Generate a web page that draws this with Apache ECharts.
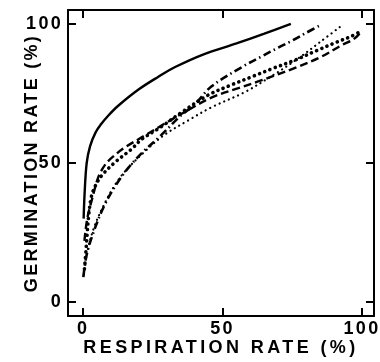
<!DOCTYPE html>
<html>
<head>
<meta charset="utf-8">
<script src="https://cdn.jsdelivr.net/npm/echarts@6/dist/echarts.min.js"></script>
<style>
  html, body { margin: 0; padding: 0; background: #fff; }
  #main { width: 380px; height: 362px; }
</style>
</head>
<body>
<div id="main"></div>
<script>
// tick labels
const xTicks = [0, 50, 100];
const yTicks = [0, 50, 100];
const xTitle = 'RESPIRATION RATE (%)';
const yTitle = 'GERMINATION RATE (%)';

// curves: [respiration %, germination %]
const solidLine = [[0.2, 30], [0.6, 40], [1.3, 50], [2.5, 56], [4.5, 61], [6.5, 64], [9, 67],
  [12.5, 70.5], [20, 76.5], [27, 81], [33, 84.5], [43, 89], [55, 93], [65, 96.5], [74.5, 100]];
const dashedLine = [[0.5, 22], [1.5, 30], [3.5, 38], [5.5, 45], [8, 49.5], [11, 52.5], [15, 55.6],
  [22, 59.8], [29, 64], [35, 67.5], [46, 73.5], [56, 77], [63, 79.4], [68, 81.2], [76, 84.2],
  [85, 88], [93, 92.5], [97, 94.5], [100, 97.5]];
const denseDots = [[0.5, 12], [1, 18], [1.5, 25], [2, 31], [3, 38], [4.5, 42], [6.7, 45.5],
  [11.4, 50.2], [17.4, 55], [21, 58.5], [28, 63], [35, 68], [45, 74.5], [53, 78], [61, 81.2],
  [68, 84], [76, 87], [84, 90.5], [91, 93.5], [96, 95.5], [99, 97]];
const dashDot = [[0.1, 9], [1.3, 17], [3.7, 25], [7.3, 34], [11.4, 41.5], [16, 48], [21.5, 54],
  [28, 60], [35, 67], [40, 71], [46, 77.5], [57.5, 84.8], [64, 88.3], [70, 91.5], [75, 94],
  [80, 96.8], [85.2, 99.6]];
const fineDots = [[0.3, 10], [1.5, 18], [4, 27], [8, 36], [12, 43], [15.5, 47.5], [22, 54],
  [29, 60], [38, 65.5], [46, 70], [58, 75.5], [68, 81.5], [77, 87.5], [85, 93.5], [93, 99.6]];

// the axis titles are set with wide letter spacing in the original
const titleSpacing = { [xTitle]: '3.4px', [yTitle]: '2.3px' };
const origFillText = CanvasRenderingContext2D.prototype.fillText;
CanvasRenderingContext2D.prototype.fillText = function (text, x, y, w) {
  if (titleSpacing[text]) {
    const prev = this.letterSpacing;
    this.letterSpacing = titleSpacing[text];
    origFillText.call(this, text, x, y, w);
    this.letterSpacing = prev;
    return;
  }
  return origFillText.apply(this, arguments);
};

const font = '"Liberation Sans", Arial, sans-serif';

function frameX(pos, showLabel) {
  return {
    type: 'value', position: pos, min: -5.4, max: 104.3,
    axisLine: { show: true, onZero: false, lineStyle: { color: '#000', width: 2 } },
    axisTick: { show: true, inside: true, length: 8, customValues: xTicks, lineStyle: { color: '#000', width: 2 } },
    axisLabel: { show: showLabel, customValues: xTicks, color: '#000', fontSize: 18, fontWeight: 'bold', fontFamily: font, margin: 4 },
    splitLine: { show: false }
  };
}
function frameY(pos, showLabel) {
  return {
    type: 'value', position: pos, min: -5, max: 105,
    axisLine: { show: true, onZero: false, lineStyle: { color: '#000', width: 2 } },
    axisTick: { show: true, inside: true, length: 8, customValues: yTicks, lineStyle: { color: '#000', width: 2 } },
    axisLabel: { show: showLabel, customValues: yTicks, color: '#000', fontSize: 18, fontWeight: 'bold', fontFamily: font, margin: 5 },
    splitLine: { show: false }
  };
}

const xBottom = Object.assign(frameX('bottom', true), {
  name: xTitle, nameLocation: 'middle', nameGap: 23, nameMoveOverlap: false,
  nameTextStyle: { color: '#000', fontSize: 18, fontWeight: 'bold', fontFamily: font }
});
const yLeft = Object.assign(frameY('left', true), {
  name: yTitle, nameLocation: 'middle', nameGap: 27, nameMoveOverlap: false,
  nameTextStyle: { color: '#000', fontSize: 18, fontWeight: 'bold', fontFamily: font }
});

function line(data, style) {
  return {
    type: 'line', data: data, xAxisIndex: 0, yAxisIndex: 0,
    showSymbol: false, smooth: 0.35,
    lineStyle: Object.assign({ color: '#000' }, style),
    animation: false
  };
}

const chart = echarts.init(document.getElementById('main'));
chart.setOption({
  backgroundColor: '#fff',
  grid: { left: 68, right: 5, top: 10, bottom: 44 },
  xAxis: [xBottom, frameX('top', false)],
  yAxis: [yLeft, frameY('right', false)],
  series: [
    line(solidLine, { width: 2.4, type: 'solid' }),
    line(dashedLine, { width: 2.4, type: [8, 4] }),
    line(denseDots, { width: 3.6, type: [0.1, 5.5], cap: 'round' }),
    line(dashDot, { width: 2.6, type: [8, 3.5, 1.5, 3.5] }),
    line(fineDots, { width: 2.2, type: [0.1, 5], cap: 'round' })
  ]
});
</script>
</body>
</html>
